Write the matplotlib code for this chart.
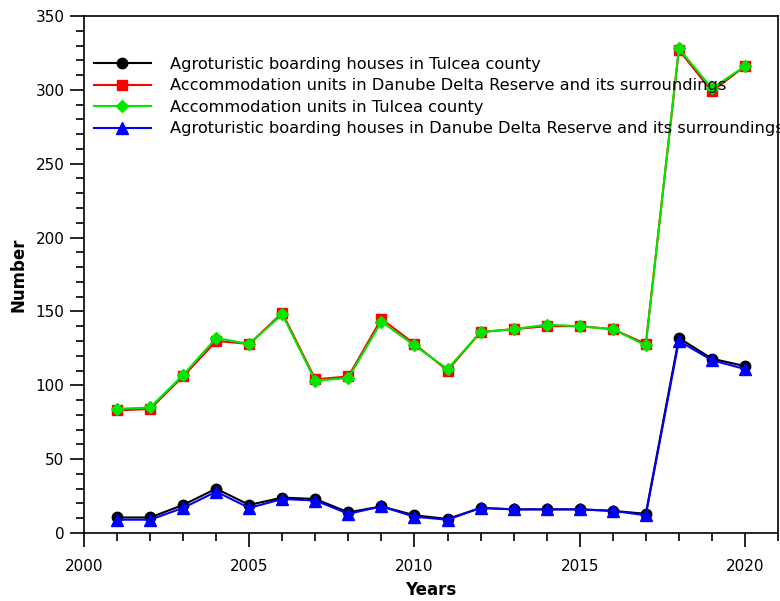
import matplotlib
matplotlib.use("Agg")
import matplotlib.pyplot as plt
from matplotlib.ticker import MultipleLocator

years = list(range(2001, 2021))
agro_tulcea = [10.5, 10.5, 19, 30, 19, 24, 23, 14, 18, 12, 9.5, 17, 16, 16, 16, 15, 13, 132, 118, 113]
accom_delta = [83, 84, 106, 130, 128, 149, 104, 106, 145, 128, 110, 136, 138, 140, 140, 138, 128, 327, 299, 316]
accom_tulcea = [84, 85, 107, 132, 128, 148, 103, 105, 143, 127, 111, 136, 138, 141, 140, 138, 127, 328, 301, 316]
agro_delta = [9, 9, 17, 28, 17, 23, 22, 13, 18, 11, 9, 17, 16, 16, 16, 15, 12, 130, 117, 111]

labels = [
    "Agroturistic boarding houses in Tulcea county",
    "Accommodation units in Danube Delta Reserve and its surroundings",
    "Accommodation units in Tulcea county",
    "Agroturistic boarding houses in Danube Delta Reserve and its surroundings",
]

plt.rcParams['font.family'] = ['DejaVu Sans']
fig = plt.figure(figsize=(7.8, 6.01), dpi=100)
ax = fig.add_axes([84/780, 1-533/601, (778-84)/780, (533-16)/601])

ax.plot(years, agro_tulcea, color='black', marker='o', markersize=7.5, lw=1.5, label=labels[0])
ax.plot(years, accom_delta, color='red', marker='s', markersize=7.5, lw=1.5, label=labels[1])
ax.plot(years, accom_tulcea, color='#00e600', marker='D', markersize=6.5, lw=1.5, label=labels[2])
ax.plot(years, agro_delta, color='blue', marker='^', markersize=8.5, lw=1.5, label=labels[3])

ax.set_xlim(2000, 2021)
ax.set_ylim(0, 350)
ax.xaxis.set_major_locator(MultipleLocator(5))
ax.xaxis.set_minor_locator(MultipleLocator(1))
ax.yaxis.set_major_locator(MultipleLocator(50))
ax.yaxis.set_minor_locator(MultipleLocator(10))
ax.tick_params(which='major', length=10, width=1.2, labelsize=11, direction='out')
ax.tick_params(which='minor', length=6, width=1.2, direction='out')
ax.tick_params(axis='x', which='major', pad=9)
ax.tick_params(axis='y', which='major', pad=4)
for s in ax.spines.values():
    s.set_linewidth(1.2)

ax.set_xlabel("Years", fontsize=12, fontweight='bold', labelpad=5)
ax.set_ylabel("Number", fontsize=12, fontweight='bold', labelpad=6)

leg = ax.legend(loc='upper left', bbox_to_anchor=(0.0, 0.94), frameon=False,
                fontsize=11.7, handlelength=3.5, handletextpad=1.2,
                labelspacing=0.4, borderaxespad=0.2)

fig.savefig("out.png", dpi=100)
